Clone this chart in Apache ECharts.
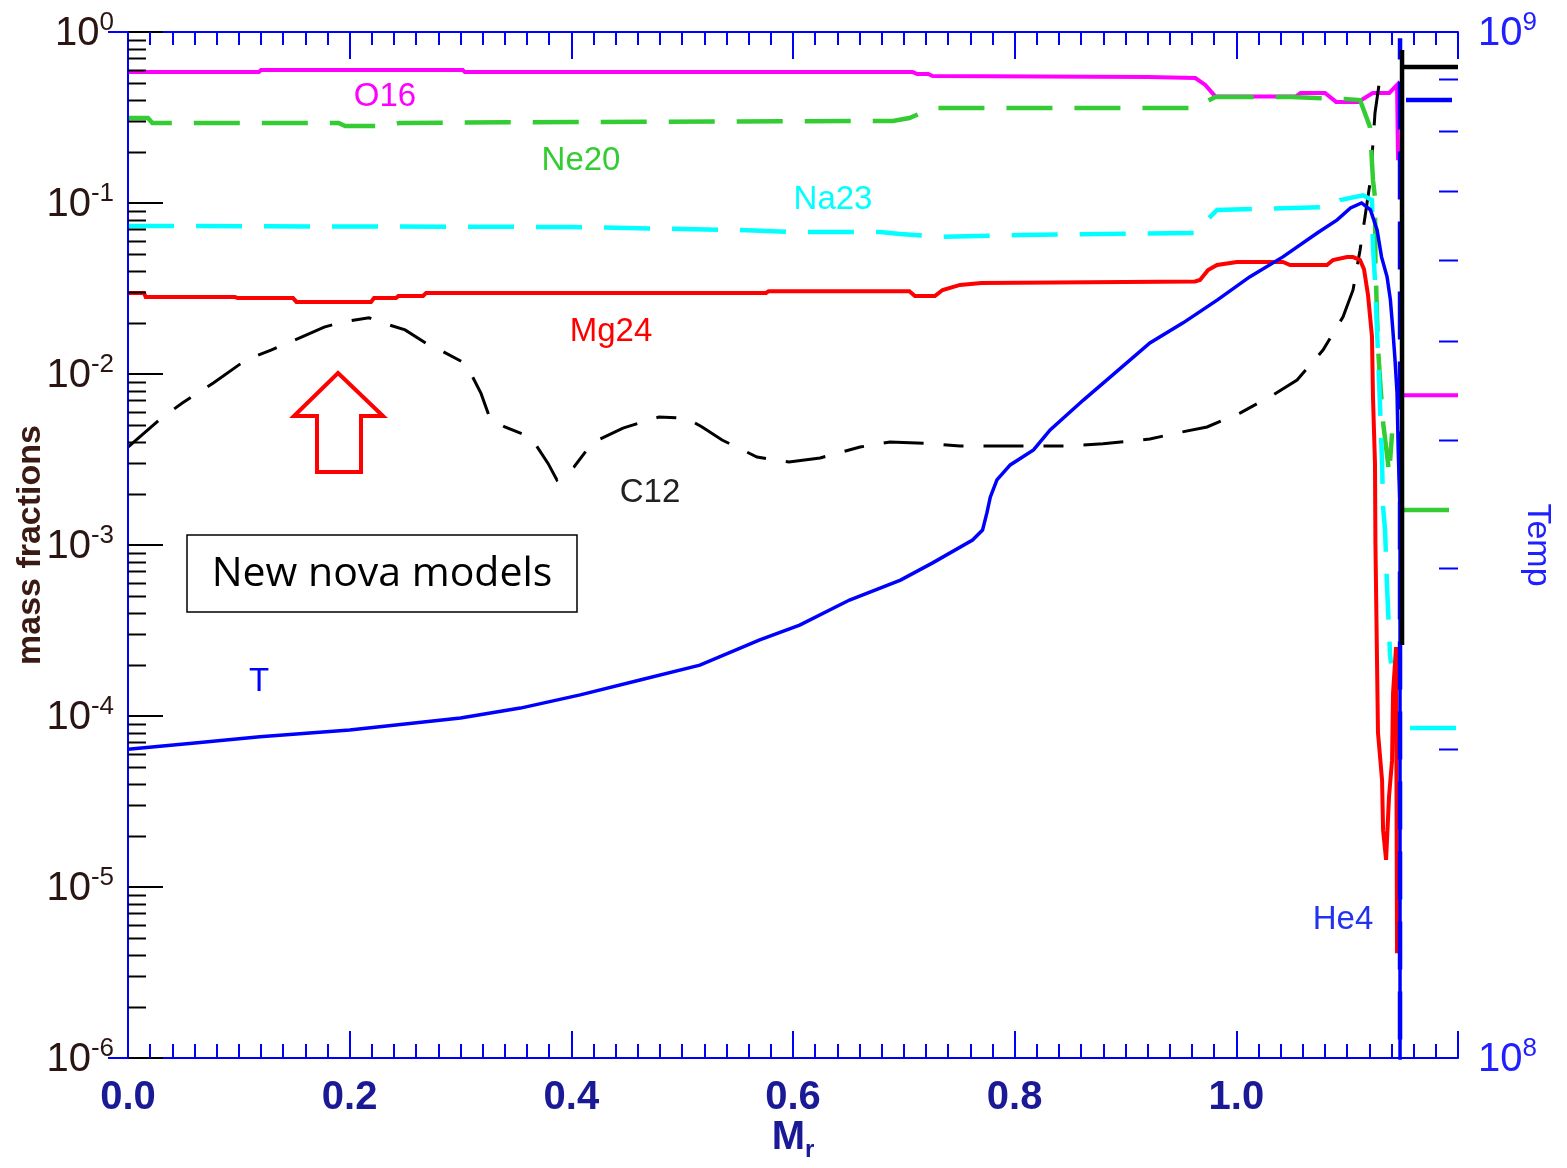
<!DOCTYPE html>
<html><head><meta charset="utf-8">
<script src="https://cdn.jsdelivr.net/npm/echarts@6/dist/echarts.min.js"></script>
<style>html,body{margin:0;padding:0;background:#fff}#c{width:1567px;height:1168px}</style>
</head><body><div id="c"></div>
<script>
// ---- data (x = M_r, y = mass fraction; T in K on right axis) ----
const o16 = [[0,0.583],[0.118,0.583],[0.12,0.60],[0.302,0.60],[0.304,0.583],[0.708,0.583],[0.712,0.568],[0.722,0.568],[0.726,0.553],[0.92,0.545],[0.963,0.538],[0.972,0.49],[0.981,0.42],[1.054,0.42],[1.058,0.44],[1.08,0.44],[1.09,0.39],[1.11,0.39],[1.123,0.44],[1.138,0.44],[1.145,0.49],[1.1459,0.178],[1.147,null],[1.1504,0.0075],[1.2,0.0075]];
const ne20 = [[0,0.314],[0.018,0.314],[0.022,0.294],[0.19,0.294],[0.196,0.282],[0.235,0.282],[0.245,0.294],[0.36,0.297],[0.69,0.302],[0.705,0.314],[0.726,0.359],[0.962,0.359],[0.981,0.417],[1.05,0.417],[1.1,0.405],[1.1116,0.40],[1.1206,0.278],[1.1233,0.136],[1.1251,0.108],[1.1255,0.0446],[1.1278,0.0144],[1.1297,0.0092],[1.1324,0.0052],[1.1369,0.0030],[1.1378,0.00257],[1.1405,0.0045],[1.145,null],[1.1504,0.0016],[1.2,0.0016]];
const na23 = [[0,0.0734],[0.3988,0.0724],[0.5522,0.0695],[0.5973,0.0677],[0.6785,0.0677],[0.6966,0.0659],[0.7327,0.0633],[0.8048,0.065],[0.9627,0.0668],[0.9736,0.0796],[0.9826,0.091],[1.0845,0.0947],[1.0936,0.104],[1.1143,0.111],[1.1224,0.104],[1.1233,0.0553],[1.1251,0.0355],[1.1269,0.0181],[1.1278,0.0133],[1.1297,0.0064],[1.1315,0.0030],[1.1324,0.00167],[1.1342,0.00122],[1.136,5.7e-4],[1.1387,2.27e-4],[1.1396,2.03e-4],[1.145,null],[1.1567,8.5e-5],[1.2,8.5e-5]];
const mg24 = [[0,0.0298],[0.0144,0.0298],[0.016,0.0282],[0.0965,0.0282],[0.099,0.0278],[0.1489,0.0278],[0.152,0.0264],[0.2193,0.0264],[0.222,0.0278],[0.2418,0.0278],[0.244,0.0286],[0.2662,0.0286],[0.269,0.0298],[0.5757,0.0298],[0.578,0.0305],[0.705,0.0305],[0.71,0.0286],[0.728,0.0286],[0.735,0.031],[0.7507,0.0332],[0.77,0.034],[0.9627,0.0348],[0.9672,0.0355],[0.9745,0.0406],[0.9826,0.0434],[1.0006,0.0452],[1.0421,0.0452],[1.0485,0.0434],[1.0818,0.0434],[1.0872,0.0464],[1.0999,0.0483],[1.1053,0.0483],[1.1116,0.0464],[1.1152,0.041],[1.1188,0.029],[1.1224,0.0165],[1.1233,0.0073],[1.1251,0.0030],[1.1255,0.00103],[1.1278,8.0e-5],[1.1315,4.2e-5],[1.1324,2.15e-5],[1.1351,1.44e-5],[1.1378,3.4e-5],[1.1405,5.5e-5],[1.1414,1.36e-4],[1.1441,2.53e-4],[1.145,4.1e-6]];
const c12 = [[0,3.74e-3],[0.028,5.38e-3],[0.049,6.77e-3],[0.077,8.86e-3],[0.1065,1.21e-2],[0.129,1.38e-2],[0.157,1.65e-2],[0.177,1.88e-2],[0.193,2.01e-2],[0.2175,2.13e-2],[0.2274,2.01e-2],[0.25,1.81e-2],[0.274,1.44e-2],[0.2815,1.38e-2],[0.302,1.175e-2],[0.3086,1.03e-2],[0.3185,7.7e-3],[0.3266,5.5e-3],[0.34,4.9e-3],[0.358,4.4e-3],[0.368,3.85e-3],[0.379,3.0e-3],[0.387,2.4e-3],[0.4024,2.86e-3],[0.4187,3.95e-3],[0.4466,4.83e-3],[0.479,5.6e-3],[0.5035,5.53e-3],[0.518,4.9e-3],[0.536,4.11e-3],[0.5675,3.27e-3],[0.5964,3.06e-3],[0.6244,3.23e-3],[0.6605,3.74e-3],[0.6875,4.0e-3],[0.7263,3.91e-3],[0.7507,3.79e-3],[0.847,3.79e-3],[0.8797,3.91e-3],[0.922,4.17e-3],[0.9465,4.52e-3],[0.9736,4.9e-3],[1.0033,5.91e-3],[1.0331,7.54e-3],[1.0548,9.22e-3],[1.0782,1.38e-2],[1.0963,2.16e-2],[1.1053,3.1e-2],[1.1116,5.3e-2],[1.1161,8.3e-2],[1.1206,0.131],[1.1233,0.224],[1.1251,0.336],[1.1297,0.545],[1.1333,0.583],[1.14,null],[1.1504,1.6e-3],[1.2,1.6e-3]];
const he4 = [[1.1477,5e-7],[1.1477,0.92],[1.15,null],[1.1531,0.40],[1.1946,0.40]];
const h1 = [[1.1495,2.6e-4],[1.1495,0.785],[1.1495,0.624],[1.2,0.624]];
const temp = [[0,2.0e8],[0.065,2.03e8],[0.119,2.056e8],[0.2,2.088e8],[0.3,2.145e8],[0.354,2.193e8],[0.408,2.259e8],[0.462,2.336e8],[0.516,2.415e8],[0.57,2.556e8],[0.606,2.642e8],[0.651,2.795e8],[0.697,2.923e8],[0.726,3.038e8],[0.762,3.198e8],[0.771,3.27e8],[0.775,3.40e8],[0.778,3.52e8],[0.784,3.66e8],[0.796,3.785e8],[0.817,3.914e8],[0.832,4.094e8],[0.862,4.378e8],[0.883,4.579e8],[0.922,4.977e8],[0.952,5.206e8],[0.983,5.482e8],[1.012,5.772e8],[1.042,6.037e8],[1.073,6.37e8],[1.091,6.56e8],[1.103,6.739e8],[1.113,6.814e8],[1.121,6.708e8],[1.127,6.412e8],[1.131,6.037e8],[1.136,5.772e8],[1.139,5.482e8],[1.141,5.159e8],[1.143,4.824e8],[1.145,4.448e8],[1.146,3.94e8],[1.1477,3.40e8],[1.1477,9.0e7]];

// axis tick definitions
const logMantissas = [2,3,4,5,6,7,8,9];
const leftDecades = [-6,-5,-4,-3,-2,-1];
const rightDecades = [8];

const leftMinor = [];
leftDecades.forEach(d => logMantissas.forEach(m => leftMinor.push(m * Math.pow(10, d))));
const rightMinor = [];
rightDecades.forEach(d => logMantissas.forEach(m => rightMinor.push(m * Math.pow(10, d))));

const BLUE = '#0000ff', LBL = '#2a1512', XL = '#1a1a96';
const chart = echarts.init(document.getElementById('c'), null, {renderer:'canvas'});

function tickSeries(vals, xv, yIdx, len, color, dir) {
  return {
    type: 'custom', xAxisIndex: 0, yAxisIndex: yIdx, silent: true, clip: false, z: 6,
    data: vals.map(v => [xv, v]), encode: {x: 0, y: 1},
    renderItem: (p, api) => {
      const c = api.coord([api.value(0), api.value(1)]);
      const y = Math.round(c[1]) + 0.5;
      return {type: 'line', shape: {x1: c[0], y1: y, x2: c[0] + dir * len, y2: y},
              style: {stroke: color, lineWidth: 2}};
    }
  };
}
function line(name, data, color, width, type, yIdx, z) {
  return {name, type: 'line', data, xAxisIndex: 0, yAxisIndex: yIdx || 0, showSymbol: false,
    symbol: 'none', connectNulls: false, clip: true, z: z || 2, animation: false,
    lineStyle: {color, width, type: type || 'solid', cap: 'butt', join: 'miter'}};
}
const supRich = (c) => ({
  b: {fontSize: 40, fontFamily: 'Liberation Sans', color: c, lineHeight: 44, verticalAlign: 'bottom'},
  s: {fontSize: 26, fontFamily: 'Liberation Sans', color: c, lineHeight: 26, verticalAlign: 'top'}
});
const xFmt = v => (Math.abs(v - 1.2) < 1e-6 ? '' : v.toFixed(1));

const option = {
  animation: false,
  backgroundColor: '#fff',
  grid: {left: 128, right: 109, top: 32, bottom: 110, containLabel: false, outerBoundsMode: 'none'},
  xAxis: [
    {type: 'value', min: 0, max: 1.2, interval: 0.2, position: 'bottom', z: 5,
     axisLine: {lineStyle: {color: BLUE, width: 2}},
     axisTick: {inside: true, length: 27, lineStyle: {color: BLUE, width: 2}},
     minorTick: {show: true, splitNumber: 10, length: 14, lineStyle: {color: BLUE, width: 2}},
     splitLine: {show: false},
     axisLabel: {margin: 20, formatter: xFmt, color: XL, fontSize: 40, fontWeight: 'bold',
                 fontFamily: 'Liberation Sans'},
     name: '{m|M}{s|r}', nameLocation: 'middle', nameGap: 60, nameMoveOverlap: false,
     nameTextStyle: {rich: {
       m: {fontSize: 40, fontWeight: 'bold', color: XL, fontFamily: 'Liberation Sans', lineHeight: 44, verticalAlign: 'top'},
       s: {fontSize: 24, fontWeight: 'bold', color: XL, fontFamily: 'Liberation Sans', lineHeight: 24, verticalAlign: 'bottom'}}}},
    {type: 'value', min: 0, max: 1.2, interval: 0.2, position: 'top', z: 5,
     axisLine: {lineStyle: {color: BLUE, width: 2}},
     axisTick: {inside: true, length: 27, lineStyle: {color: BLUE, width: 2}},
     minorTick: {show: true, splitNumber: 10, length: 13, lineStyle: {color: BLUE, width: 2}},
     splitLine: {show: false}, axisLabel: {show: false}}
  ],
  yAxis: [
    {type: 'log', logBase: 10, min: 1e-6, max: 1, splitNumber: 6, position: 'left', z: 5,
     axisLine: {lineStyle: {color: '#000', width: 2}},
     axisTick: {inside: true, length: 35, lineStyle: {color: '#000', width: 2}},
     splitLine: {show: false},
     axisLabel: {margin: 14, formatter: v => '{b|10}{s|' + Math.round(Math.log10(v)) + '}', rich: supRich(LBL)},
     name: 'mass fractions', nameLocation: 'middle', nameGap: 80, nameMoveOverlap: false,
     nameTextStyle: {color: '#3a1a12', fontSize: 34, fontWeight: 'bold', fontFamily: 'Liberation Sans'}},
    {type: 'log', logBase: 10, min: 1e8, max: 1e9, splitNumber: 1, position: 'right', z: 5,
     axisLine: {lineStyle: {color: BLUE, width: 2}},
     axisTick: {inside: true, length: 20, lineStyle: {color: BLUE, width: 2}},
     splitLine: {show: false},
     axisLabel: {margin: 20, formatter: v => '{b|10}{s|' + Math.round(Math.log10(v)) + '}', rich: supRich('#1f1fff')},
     name: 'Temp', nameLocation: 'middle', nameGap: 62, nameRotate: -90, nameMoveOverlap: false,
     nameTextStyle: {color: '#1f1fff', fontSize: 34, fontFamily: 'Liberation Sans'}}
  ],
  series: [
    line('O16', o16, '#ff00ff', 4, 'solid', 0, 2),
    line('C12', c12, '#000000', 3, [40, 20, 20, 20], 0, 2),
    line('Ne20', ne20, '#33cc33', 4.5, [46, 22], 0, 3),
    line('Na23', na23, '#00ffff', 4.5, [46, 22], 0, 3),
    line('Mg24', mg24, '#ff0000', 4, 'solid', 0, 3),
    line('T', temp, '#0000ff', 3.5, 'solid', 1, 4),
    line('He4', he4, '#0000ff', 4.5, [48, 22], 0, 4),
    line('H1', h1, '#000000', 4.5, 'solid', 0, 4),
    tickSeries(leftMinor, 0, 0, 18, '#000', 1),
    tickSeries(rightMinor, 1.2, 1, 19, BLUE, -1)
  ],
  graphic: [
    {type: 'text', x: 385, y: 97, style: {text: 'O16', fill: '#ff00ff', fontSize: 33, fontFamily: 'Liberation Sans', align: 'center', verticalAlign: 'middle'}},
    {type: 'text', x: 581, y: 161, style: {text: 'Ne20', fill: '#33cc33', fontSize: 33, fontFamily: 'Liberation Sans', align: 'center', verticalAlign: 'middle'}},
    {type: 'text', x: 833, y: 200, style: {text: 'Na23', fill: '#00ffff', fontSize: 33, fontFamily: 'Liberation Sans', align: 'center', verticalAlign: 'middle'}},
    {type: 'text', x: 611, y: 332, style: {text: 'Mg24', fill: '#ff0000', fontSize: 33, fontFamily: 'Liberation Sans', align: 'center', verticalAlign: 'middle'}},
    {type: 'text', x: 650, y: 493, style: {text: 'C12', fill: '#222222', fontSize: 33, fontFamily: 'Liberation Sans', align: 'center', verticalAlign: 'middle'}},
    {type: 'text', x: 259, y: 682, style: {text: 'T', fill: '#0000ff', fontSize: 33, fontFamily: 'Liberation Sans', align: 'center', verticalAlign: 'middle'}},
    {type: 'text', x: 1343, y: 920, style: {text: 'He4', fill: '#2233ee', fontSize: 33, fontFamily: 'Liberation Sans', align: 'center', verticalAlign: 'middle'}},
    {type: 'rect', shape: {x: 187, y: 535, width: 390, height: 77}, style: {fill: '#fff', stroke: '#000', lineWidth: 1.5}, z: 10},
    {type: 'text', x: 382, y: 574, z: 11, style: {text: 'New nova models', fill: '#000', fontSize: 41, fontFamily: "'Open Sans', 'Noto Sans'", align: 'center', verticalAlign: 'middle'}},
    {type: 'polygon', z: 10, shape: {points: [[338,373],[383,416],[361,416],[361,472],[317,472],[317,416],[294,416]]},
     style: {fill: 'none', stroke: '#ff0000', lineWidth: 4}}
  ]
};
chart.setOption(option);
</script>
</body></html>
